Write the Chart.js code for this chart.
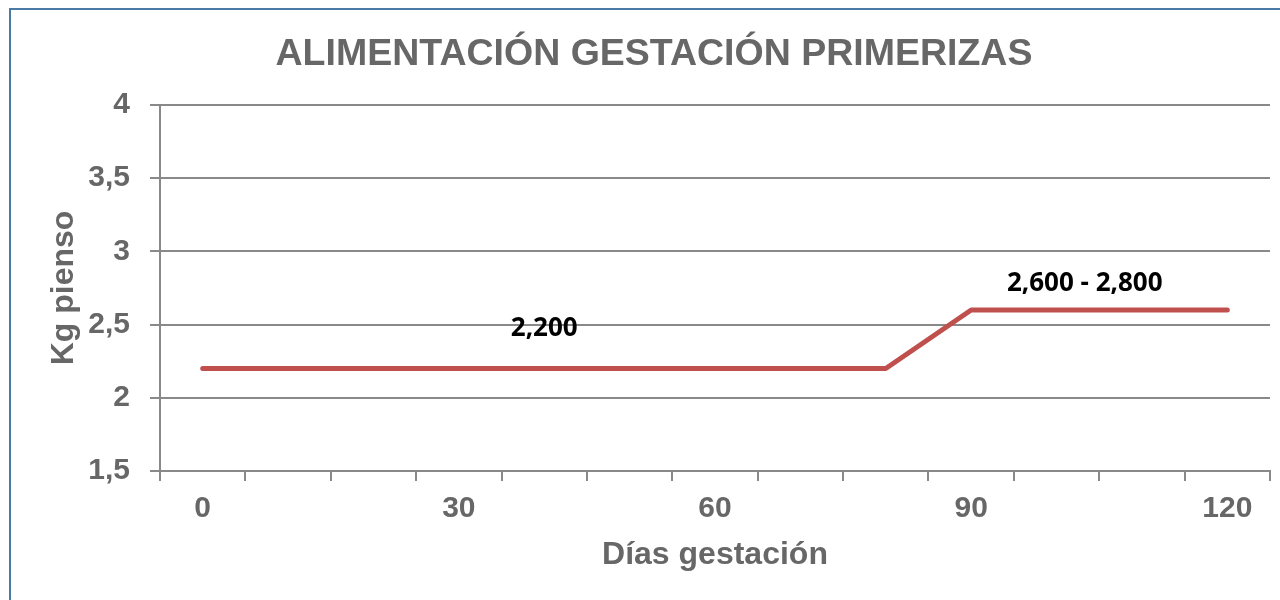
<!DOCTYPE html>
<html lang="es">
<head>
<meta charset="utf-8">
<title>Alimentación gestación primerizas</title>
<script src="https://cdn.jsdelivr.net/npm/chart.js@4"></script>
<style>
    html, body { margin: 0; padding: 0; background: #fff; overflow: hidden; }
    #wrap { position: relative; width: 1280px; height: 600px; }
    #frame {
        position: absolute; left: 9px; top: 8px; width: 1300px; height: 620px;
        border: 2px solid #4a7ba6; box-sizing: border-box;
    }
    #chart { position: absolute; left: 0; top: 0; }
    #title {
        position: absolute; left: 0; top: 31px; width: 1308px;
        text-align: center; line-height: 37px; white-space: nowrap;
        font: bold 37.5px 'Liberation Sans', Arial, sans-serif; color: #676767;
    }
</style>
</head>
<body>
<div id="wrap">
    <div id="frame"></div>
    <canvas id="chart" width="1280" height="600"></canvas>
    <div id="title">ALIMENTACIÓN GESTACIÓN PRIMERIZAS</div>
</div>
<script>
// days of gestation (one category every 10 days)
var days = [0, 10, 20, 30, 40, 50, 60, 70, 80, 90, 100, 110, 120];
// kg of feed per day
var kgPienso = [2.2, 2.2, 2.2, 2.2, 2.2, 2.2, 2.2, 2.2, 2.2, 2.6, 2.6, 2.6, 2.6];
// only these days get a label on the x axis
var dayTickLabels = ['0', '30', '60', '90', '120'];
// text notes over the line
var noteTexts = ['2,200', '2,600 - 2,800'];
var noteDays = [40, 103.3];
var noteKg = [2.47, 2.78];

var grey = '#898989';
var textGrey = '#676767';
var arial = "'Liberation Sans', Arial, sans-serif";

// draws the black notes, anchored on the chart scales
var notesPlugin = {
    id: 'notes',
    afterDatasetsDraw: function (chart) {
        var ctx = chart.ctx;
        var x = chart.scales.x;
        var y = chart.scales.y;
        ctx.save();
        ctx.font = "bold 26px 'Open Sans', sans-serif";
        ctx.fillStyle = '#000';
        ctx.textAlign = 'center';
        ctx.textBaseline = 'middle';
        for (var i = 0; i < noteTexts.length; i++) {
            ctx.fillText(noteTexts[i], x.getPixelForValue(noteDays[i] / 10), y.getPixelForValue(noteKg[i]));
        }
        ctx.restore();
    }
};

var ctx = document.getElementById('chart');
var chart = new Chart(ctx.getContext('2d'), {
    type: 'line',
    data: {
        labels: days.map(String),
        datasets: [{
            label: 'Kg pienso',
            data: kgPienso,
            borderColor: '#c0504d',
            borderWidth: 5,
            borderCapStyle: 'round',
            borderJoinStyle: 'round',
            pointRadius: 0,
            tension: 0,
            fill: false
        }]
    },
    options: {
        responsive: false,
        animation: false,
        layout: { padding: { left: 0, right: 10, top: 105, bottom: 0 } },
        plugins: {
            legend: { display: false },
            tooltip: { enabled: false },
            title: { display: false }
        },
        scales: {
            x: {
                type: 'category',
                offset: true,
                grid: {
                    display: true,
                    offset: true,
                    drawOnChartArea: false,
                    drawTicks: true,
                    tickLength: 10,
                    color: grey,
                    lineWidth: 2
                },
                border: { display: true, color: grey, width: 2 },
                ticks: {
                    autoSkip: false,
                    maxRotation: 0,
                    padding: 10,
                    color: textGrey,
                    font: { family: arial, size: 30, weight: 'bold' },
                    callback: function (value) {
                        var lbl = this.getLabelForValue(value);
                        return dayTickLabels.indexOf(lbl) >= 0 ? lbl : '';
                    }
                },
                title: {
                    display: true,
                    text: 'Días gestación',
                    color: textGrey,
                    font: { family: arial, size: 32, weight: 'bold' },
                    padding: { top: 0, bottom: 26 }
                },
                afterFit: function (scale) { scale.height = 129; }
            },
            y: {
                min: 1.5,
                max: 4,
                grid: {
                    color: grey,
                    lineWidth: 2,
                    drawTicks: true,
                    tickLength: 10
                },
                border: { display: true, color: grey, width: 2 },
                ticks: {
                    stepSize: 0.5,
                    padding: 20,
                    color: textGrey,
                    font: { family: arial, size: 30, weight: 'bold' },
                    callback: function (value) { return String(value).replace('.', ','); }
                },
                title: {
                    display: true,
                    text: 'Kg pienso',
                    color: textGrey,
                    font: { family: arial, size: 32, weight: 'bold' },
                    padding: { top: 45, bottom: 0 }
                },
                afterFit: function (scale) { scale.width = 160; }
            }
        }
    },
    plugins: [notesPlugin]
});
</script>
</body>
</html>
